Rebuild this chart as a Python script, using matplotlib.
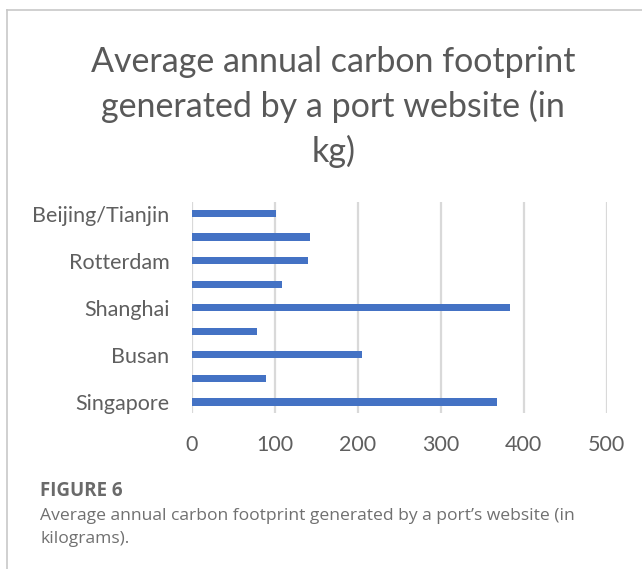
import numpy as np
import matplotlib.pyplot as plt
from matplotlib.lines import Line2D

# ports from bottom to top; every other label is skipped on the axis
ports = ["Singapore", "", "Busan", "", "Shanghai", "", "Rotterdam", "", "Beijing/Tianjin"]
co2_kg = [368, 89, 205, 79, 384, 109, 140, 142, 102]
xticks = [0, 100, 200, 300, 400, 500]

title_lines = ["Average annual carbon footprint",
               "generated by a port website (in",
               "kg)"]
fig_label = "FIGURE 6"
caption = ["Average annual carbon footprint generated by a port\u2019s website (in",
           "kilograms)."]

plt.rcParams['font.family'] = ['Lato', 'DejaVu Sans']

W, H = 642, 569
fig = plt.figure(figsize=(W / 100, H / 100), dpi=100)

# thin frame on the top and left edges
fig.add_artist(Line2D([7.3 / W, 1], [1 - 10 / H, 1 - 10 / H], color="#c8c8c8", lw=1.2))
fig.add_artist(Line2D([7.3 / W, 7.3 / W], [0, 1 - 10 / H], color="#c8c8c8", lw=1.2))

ax = fig.add_axes([191.7 / W, 156 / H, 415 / W, 210.5 / H])
y = np.arange(len(ports))
ax.barh(y, co2_kg, height=0.31, color="#4472C4", zorder=3)

ax.set_xlim(0, 500)
ax.set_ylim(-0.47, len(ports) - 0.53)
ax.set_xticks(xticks)
ax.set_xticklabels([str(t) for t in xticks])
ax.set_yticks(y)
ax.set_yticklabels(ports)
ax.grid(True, axis="x", color="#d9d9d9", lw=1.6, zorder=0)
ax.tick_params(length=0, labelsize=15.5, labelcolor="#5f5f5f")
ax.tick_params(axis="x", pad=16)
ax.tick_params(axis="y", pad=16)
for s in ax.spines.values():
    s.set_visible(False)

for i, line in enumerate(title_lines):
    fig.text(333.3 / W, 1 - (71.7 + 45.3 * i) / H, line, ha="center", va="baseline",
             fontsize=24.5, color="#595959")

fig.text(40 / W, 1 - 495.7 / H, fig_label, ha="left", va="baseline",
         fontsize=13.5, color="#6a6a6a", fontweight="bold", family=["Open Sans", "DejaVu Sans"])
for i, line in enumerate(caption):
    fig.text(40 / W, 1 - (520 + 23.3 * i) / H, line, ha="left", va="baseline",
             fontsize=12.6, color="#707070", family=["Open Sans", "DejaVu Sans"])

fig.savefig("out.png", dpi=100)
